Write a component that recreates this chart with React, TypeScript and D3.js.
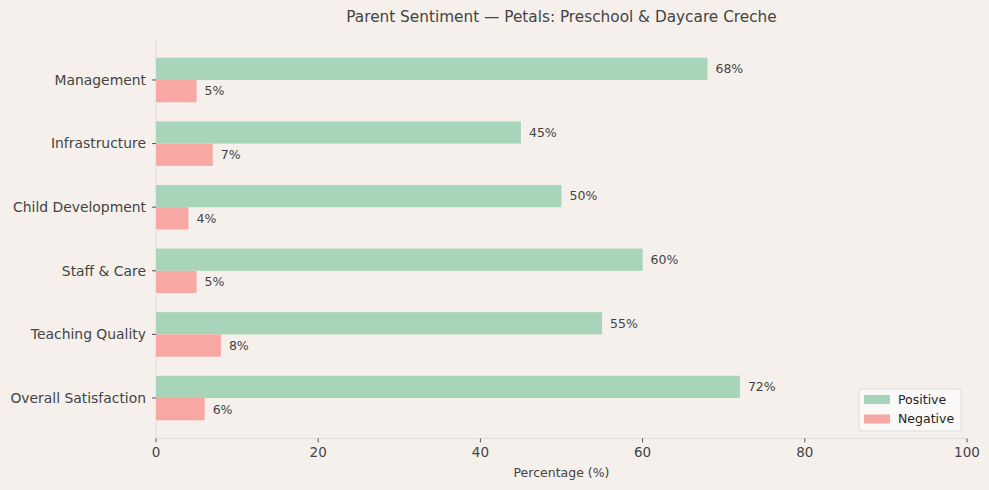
import { useRef, useEffect } from 'react'
import * as d3 from 'd3'

const categories = [
  'Management',
  'Infrastructure',
  'Child Development',
  'Staff & Care',
  'Teaching Quality',
  'Overall Satisfaction',
]
const positive = [68, 45, 50, 60, 55, 72]
const negative = [5, 7, 4, 5, 8, 6]
const xTicks = [0, 20, 40, 60, 80, 100]

const W = 989
const H = 490
const FONT = 'DejaVu Sans, sans-serif'
const TEXT = '#444'
const POS_COLOR = '#a8d5ba'
const NEG_COLOR = '#f7a8a4'

export default function App() {
  const ref = useRef<SVGSVGElement>(null)

  useEffect(() => {
    document.body.style.margin = '0'
    if (!ref.current) return
    const svg = d3.select(ref.current)
    svg.selectAll('*').remove()

    const margin = { top: 39.6, right: 22, bottom: 51.6, left: 156 }
    const x = d3.scaleLinear().domain([0, 100]).range([margin.left, W - margin.right])
    // index 0 at the bottom, matplotlib-style
    const n = categories.length
    const y = d3
      .scaleLinear()
      .domain([-0.635, n - 1 + 0.635])
      .range([H - margin.bottom, margin.top])
    const barH = y(0) - y(0.35)
    const pos = (i: number) => y(n - 1 - i)

    svg.append('rect').attr('width', W).attr('height', H).attr('fill', '#f5f0eb')

    // spines
    svg
      .append('line')
      .attr('x1', margin.left)
      .attr('x2', margin.left)
      .attr('y1', margin.top)
      .attr('y2', H - margin.bottom)
      .attr('stroke', '#dddddd')
    svg
      .append('line')
      .attr('x1', margin.left)
      .attr('x2', W - margin.right)
      .attr('y1', H - margin.bottom)
      .attr('y2', H - margin.bottom)
      .attr('stroke', '#dddddd')

    // bars
    categories.forEach((c, i) => {
      const cy = pos(i)
      svg
        .append('rect')
        .attr('x', x(0))
        .attr('y', cy - barH)
        .attr('width', x(positive[i]) - x(0))
        .attr('height', barH)
        .attr('fill', POS_COLOR)
      svg
        .append('rect')
        .attr('x', x(0))
        .attr('y', cy)
        .attr('width', x(negative[i]) - x(0))
        .attr('height', barH)
        .attr('fill', NEG_COLOR)

      svg
        .append('text')
        .attr('x', x(positive[i]) + 8)
        .attr('y', cy - barH / 2)
        .attr('dy', '0.35em')
        .attr('font-family', FONT)
        .attr('font-size', 12.5)
        .attr('fill', TEXT)
        .text(`${positive[i]}%`)
      svg
        .append('text')
        .attr('x', x(negative[i]) + 8)
        .attr('y', cy + barH / 2)
        .attr('dy', '0.35em')
        .attr('font-family', FONT)
        .attr('font-size', 12.5)
        .attr('fill', TEXT)
        .text(`${negative[i]}%`)

      // y tick + label
      svg
        .append('line')
        .attr('x1', margin.left - 4)
        .attr('x2', margin.left)
        .attr('y1', cy)
        .attr('y2', cy)
        .attr('stroke', '#555')
      svg
        .append('text')
        .attr('x', margin.left - 10)
        .attr('y', cy)
        .attr('dy', '0.35em')
        .attr('text-anchor', 'end')
        .attr('font-family', FONT)
        .attr('font-size', 13.9)
        .attr('fill', TEXT)
        .text(c)
    })

    // x axis ticks
    xTicks.forEach((t) => {
      svg
        .append('line')
        .attr('x1', x(t))
        .attr('x2', x(t))
        .attr('y1', H - margin.bottom)
        .attr('y2', H - margin.bottom + 4)
        .attr('stroke', '#555')
      svg
        .append('text')
        .attr('x', x(t))
        .attr('y', H - margin.bottom + 19)
        .attr('text-anchor', 'middle')
        .attr('font-family', FONT)
        .attr('font-size', 13.5)
        .attr('fill', TEXT)
        .text(t)
    })

    svg
      .append('text')
      .attr('x', (x(0) + x(100)) / 2)
      .attr('y', 477)
      .attr('text-anchor', 'middle')
      .attr('font-family', FONT)
      .attr('font-size', 12.5)
      .attr('fill', TEXT)
      .text('Percentage (%)')

    svg
      .append('text')
      .attr('x', (x(0) + x(100)) / 2)
      .attr('y', 22)
      .attr('text-anchor', 'middle')
      .attr('font-family', FONT)
      .attr('font-size', 15.3)
      .attr('fill', TEXT)
      .text('Parent Sentiment — Petals: Preschool & Daycare Creche')

    // legend
    const lg = svg.append('g').attr('transform', 'translate(859,389)')
    lg.append('rect')
      .attr('width', 102)
      .attr('height', 42)
      .attr('rx', 3)
      .attr('fill', '#fbf9f7')
      .attr('stroke', '#dddddd')
    const items = [
      { label: 'Positive', color: POS_COLOR },
      { label: 'Negative', color: NEG_COLOR },
    ]
    items.forEach((it, i) => {
      lg.append('rect')
        .attr('x', 5)
        .attr('y', 6 + i * 19.5)
        .attr('width', 26)
        .attr('height', 9)
        .attr('fill', it.color)
      lg.append('text')
        .attr('x', 39)
        .attr('y', 10.5 + i * 19.5)
        .attr('dy', '0.35em')
        .attr('font-family', FONT)
        .attr('font-size', 12.5)
        .attr('fill', '#222')
        .text(it.label)
    })
  }, [])

  return <svg ref={ref} width={W} height={H} style={{ display: 'block' }} />
}
